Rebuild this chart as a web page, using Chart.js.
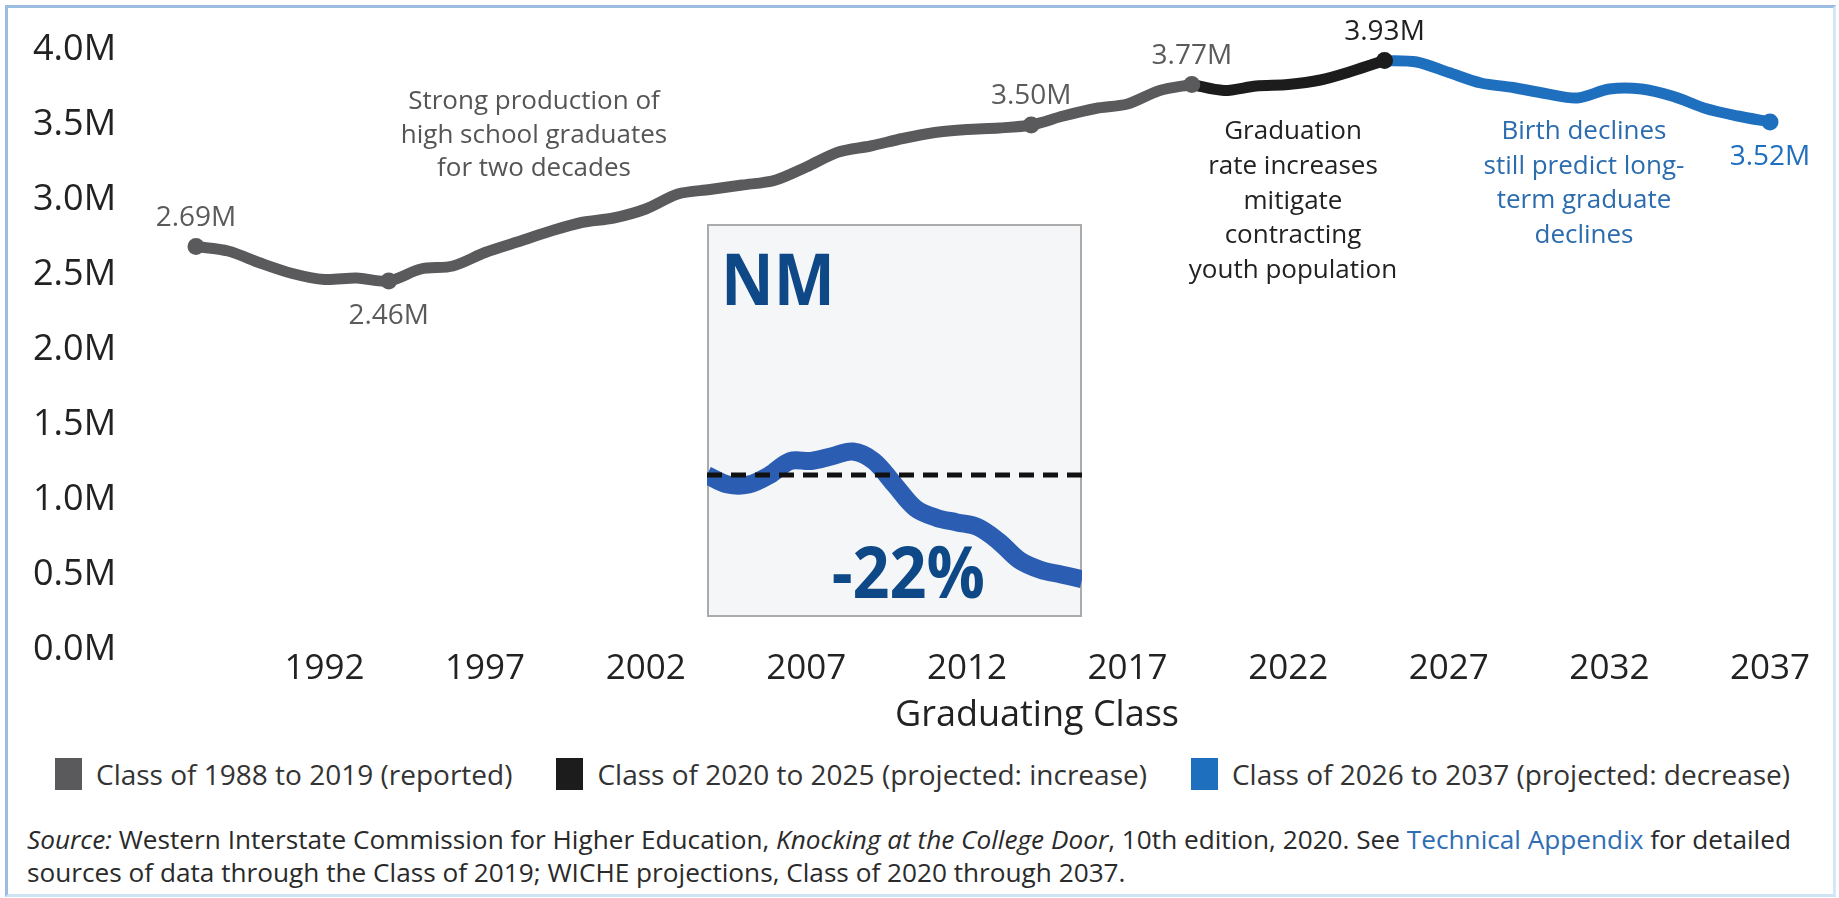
<!DOCTYPE html>
<html>
<head>
<meta charset="utf-8">
<title>High School Graduates, Class of 1988 to 2037</title>
<script src="https://cdn.jsdelivr.net/npm/chart.js@4.4.1/dist/chart.umd.min.js"></script>
<style>
  html, body { margin: 0; padding: 0; background: #ffffff; width: 1839px; height: 898px; overflow: hidden; }
  body { position: relative; font-family: "Open Sans", sans-serif; }
  #frame { position: absolute; left: 5px; top: 5px; width: 1831px; height: 892px; box-sizing: border-box;
           border: 3px solid #9dbce2; border-right-color: #d6e8f6; border-bottom-color: #cfe3f3; }
  #mainChart { position: absolute; left: 0; top: 0; }
  #insetBox { position: absolute; left: 707px; top: 224px; width: 375px; height: 393px;
              background: #f4f6f7; box-shadow: inset 0 0 0 2px #ababab; }
  #insetChart { position: absolute; left: 0; top: 0; }
  #legend { position: absolute; left: 55px; top: 758px; display: flex; gap: 44px; font-size: 28px;
            line-height: 32px; color: #333333; white-space: nowrap; }
  #legend .item { display: flex; align-items: center; }
  #legend .swatch { width: 27px; height: 32px; margin-right: 14px; display: inline-block; }
  #source { position: absolute; left: 27px; top: 823px; font-size: 26.2px; line-height: 33px; color: #2a2a2a;
            white-space: nowrap; }
  #source .link { color: #2f6eb5; }
</style>
</head>
<body>
<div id="frame"></div>
<canvas id="mainChart" width="1839" height="750"></canvas>
<div id="insetBox"><canvas id="insetChart" width="375" height="393"></canvas></div>
<div id="legend"></div>
<div id="source"><i>Source:</i> Western Interstate Commission for Higher Education, <i>Knocking at the College Door</i>, 10th edition, 2020. See <span class="link">Technical Appendix</span> for detailed<br>sources of data through the Class of 2019; WICHE projections, Class of 2020 through 2037.</div>

<script>
// ---- Graduating classes and high school graduates (millions) ----
const reportedYears = [1988, 1989, 1990, 1991, 1992, 1993, 1994, 1995, 1996, 1997, 1998, 1999, 2000, 2001, 2002, 2003,
                       2004, 2005, 2006, 2007, 2008, 2009, 2010, 2011, 2012, 2013, 2014, 2015, 2016, 2017, 2018, 2019];
const reportedGrads = [2.69, 2.66, 2.58, 2.51, 2.47, 2.48, 2.46, 2.54, 2.56, 2.65, 2.72, 2.79, 2.85, 2.88, 2.94, 3.04,
                       3.07, 3.10, 3.13, 3.22, 3.32, 3.36, 3.41, 3.45, 3.47, 3.48, 3.50, 3.56, 3.61, 3.64, 3.73, 3.77];

const increaseYears = [2019, 2020, 2021, 2022, 2023, 2024, 2025];
const increaseGrads = [3.77, 3.73, 3.76, 3.77, 3.80, 3.86, 3.93];

const decreaseYears = [2025, 2026, 2027, 2028, 2029, 2030, 2031, 2032, 2033, 2034, 2035, 2036, 2037];
const decreaseGrads = [3.93, 3.92, 3.85, 3.78, 3.75, 3.71, 3.68, 3.74, 3.74, 3.69, 3.61, 3.56, 3.52];

const seriesLabels = [
  'Class of 1988 to 2019 (reported)',
  'Class of 2020 to 2025 (projected: increase)',
  'Class of 2026 to 2037 (projected: decrease)'
];

// Tick labels
const xTickYears = [1992, 1997, 2002, 2007, 2012, 2017, 2022, 2027, 2032, 2037];
const yTickValues = [0, 0.5, 1.0, 1.5, 2.0, 2.5, 3.0, 3.5, 4.0];

// Marked, value-labelled classes for each series
const labelledYears = [[1988, 1994, 2014, 2019], [2025], [2037]];
const labelsBelowLine = [1994, 2037];

// Annotation text
const noteStrong = ['Strong production of', 'high school graduates', 'for two decades'];
const noteGradRate = ['Graduation', 'rate increases', 'mitigate', 'contracting', 'youth population'];
const noteBirth = ['Birth declines', 'still predict long-', 'term graduate', 'declines'];
const axisTitleX = 'Graduating Class';

// New Mexico inset: change in graduates (%) by class
const nmLabel = 'NM';
const nmYears = [2019, 2020, 2021, 2022, 2023, 2024, 2025, 2026, 2027, 2028, 2029, 2030, 2031, 2032, 2033, 2034, 2035, 2036, 2037];
const nmChangePct = [0, -2, -2, 0, 3, 3, 4, 5, 3, -2, -7, -9, -10, -11, -14, -18, -20, -21, -22];
const nmBaselinePct = 0;

// ---- Styling ----
const FONT = '"Open Sans", sans-serif';
Chart.defaults.font.family = FONT;
const lineColors = ['#5a5a5c', '#1c1c1c', '#1f6fbf'];
const valueLabelColors = ['#5b5b5b', '#1f1f1f', '#1f6fbf'];

const toPoints = (xs, ys) => xs.map((x, i) => ({ x: x, y: ys[i] }));

function seriesDataset(idx, xs, ys) {
  return {
    label: seriesLabels[idx],
    data: toPoints(xs, ys),
    borderColor: lineColors[idx],
    backgroundColor: lineColors[idx],
    pointBackgroundColor: lineColors[idx],
    borderWidth: 11,
    tension: 0.3,
    borderCapStyle: 'round',
    borderJoinStyle: 'round',
    pointBorderWidth: 0,
    pointRadius: ctx => (ctx.raw && labelledYears[idx].includes(ctx.raw.x)) ? 8.5 : 0,
    pointHoverRadius: 0,
    clip: false,
    order: idx
  };
}

// Text layered on the main chart: value labels, notes and axis title
const notesLayout = [
  { lines: noteStrong,   x: 534,  y: 100, gap: 33.5, color: '#555555' },
  { lines: noteGradRate, x: 1293, y: 130, gap: 34.8, color: '#222222' },
  { lines: noteBirth,    x: 1584, y: 130, gap: 34.5, color: '#2b6cae' }
];

const annotationPlugin = {
  id: 'annotationPlugin',
  afterDatasetsDraw(chart) {
    const ctx = chart.ctx;
    ctx.save();
    ctx.textAlign = 'center';
    ctx.textBaseline = 'alphabetic';

    // value labels on marked points
    ctx.font = '28px ' + FONT;
    chart.data.datasets.forEach((ds, i) => {
      const meta = chart.getDatasetMeta(i);
      ds.data.forEach((d, j) => {
        if (!labelledYears[i].includes(d.x)) return;
        const pt = meta.data[j];
        const centerY = labelsBelowLine.includes(d.x) ? pt.y + 33 : pt.y - 31;
        ctx.fillStyle = valueLabelColors[i];
        ctx.fillText(d.y.toFixed(2) + 'M', pt.x, centerY + 10);
      });
    });

    // notes
    ctx.font = '26px ' + FONT;
    notesLayout.forEach(n => {
      ctx.fillStyle = n.color;
      n.lines.forEach((line, k) => ctx.fillText(line, n.x, n.y + k * n.gap + 9));
    });

    // x axis title
    ctx.font = '36px ' + FONT;
    ctx.fillStyle = '#222222';
    ctx.fillText(axisTitleX, 1037, 726);
    ctx.restore();
  }
};

const mainChart = new Chart(document.getElementById('mainChart'), {
  type: 'line',
  data: {
    datasets: [
      seriesDataset(0, reportedYears, reportedGrads),
      seriesDataset(1, increaseYears, increaseGrads),
      seriesDataset(2, decreaseYears, decreaseGrads)
    ]
  },
  options: {
    responsive: false,
    animation: false,
    devicePixelRatio: 1,
    events: [],
    layout: { padding: { top: 50, right: 69, bottom: 0, left: 33 } },
    plugins: { legend: { display: false }, tooltip: { enabled: false } },
    scales: {
      x: {
        type: 'linear',
        min: 1988,
        max: 2037,
        grid: { display: false, drawTicks: false },
        border: { display: false },
        afterBuildTicks: scale => { scale.ticks = xTickYears.map(v => ({ value: v })); },
        afterFit: scale => { scale.height = 100; },
        ticks: {
          autoSkip: false,
          maxRotation: 0,
          padding: 2,
          color: '#222222',
          font: { size: 35, lineHeight: 1 },
          callback: v => String(v)
        }
      },
      y: {
        min: 0,
        max: 4,
        grid: { display: false, drawTicks: false },
        border: { display: false },
        afterBuildTicks: scale => { scale.ticks = yTickValues.map(v => ({ value: v })); },
        afterFit: scale => { scale.width = 163; },
        ticks: {
          padding: 0,
          crossAlign: 'far',
          color: '#222222',
          font: { size: 36 },
          callback: v => v.toFixed(1) + 'M'
        }
      }
    }
  },
  plugins: [annotationPlugin]
});

// Legend built from the chart's own datasets
const legendEl = document.getElementById('legend');
mainChart.data.datasets.forEach(ds => {
  const item = document.createElement('div');
  item.className = 'item';
  const sw = document.createElement('span');
  sw.className = 'swatch';
  sw.style.background = ds.borderColor;
  item.appendChild(sw);
  item.appendChild(document.createTextNode(ds.label));
  legendEl.appendChild(item);
});

// ---- New Mexico inset ----
const insetTextPlugin = {
  id: 'insetTextPlugin',
  afterDatasetsDraw(chart) {
    const ctx = chart.ctx;
    ctx.save();
    ctx.fillStyle = '#0e4886';
    ctx.font = 'bold 72px ' + FONT;
    ctx.textBaseline = 'alphabetic';
    ctx.textAlign = 'left';
    ctx.translate(14, 81);
    ctx.scale(0.9, 1);
    ctx.fillText(nmLabel, 0, 0);
    ctx.restore();

    ctx.save();
    ctx.fillStyle = '#0e4886';
    ctx.font = 'bold 72px ' + FONT;
    ctx.textBaseline = 'alphabetic';
    ctx.textAlign = 'right';
    ctx.translate(278, 374);
    ctx.scale(0.9, 1);
    ctx.fillText(nmChangePct[nmChangePct.length - 1] + '%', 0, 0);
    ctx.restore();
  }
};

new Chart(document.getElementById('insetChart'), {
  type: 'line',
  data: {
    datasets: [
      {
        label: 'Baseline',
        data: [{ x: nmYears[0], y: nmBaselinePct }, { x: nmYears[nmYears.length - 1], y: nmBaselinePct }],
        borderColor: '#111111',
        borderWidth: 5,
        borderDash: [15, 9],
        pointRadius: 0,
        order: 0
      },
      {
        label: 'NM graduates',
        data: toPoints(nmYears, nmChangePct),
        borderColor: '#2b5eb3',
        borderWidth: 18,
        tension: 0.35,
        borderCapStyle: 'butt',
        pointRadius: 0,
        order: 1
      }
    ]
  },
  options: {
    responsive: false,
    animation: false,
    devicePixelRatio: 1,
    events: [],
    layout: { padding: 0 },
    plugins: { legend: { display: false }, tooltip: { enabled: false } },
    scales: {
      x: { type: 'linear', display: false, min: 2019, max: 2037 },
      y: { display: false, min: -30, max: 53.1 }
    }
  },
  plugins: [insetTextPlugin]
});
</script>
</body>
</html>
